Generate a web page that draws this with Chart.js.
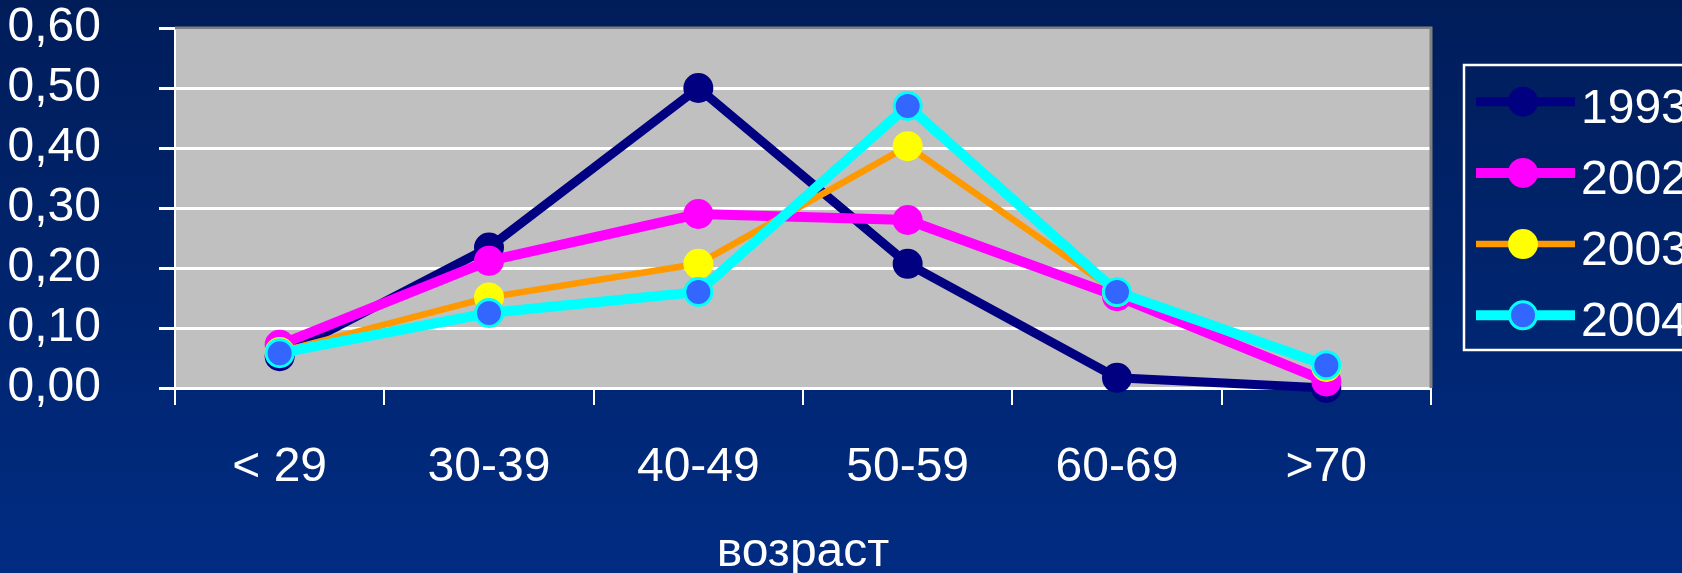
<!DOCTYPE html>
<html>
<head>
<meta charset="utf-8">
<script src="https://cdn.jsdelivr.net/npm/chart.js@4.4.0/dist/chart.umd.min.js"></script>
<style>
  html, body { margin: 0; padding: 0; background: #00256e; }
  #wrap { width: 1682px; height: 573px; }
</style>
</head>
<body>
<div id="wrap"><canvas id="c" width="1682" height="573"></canvas></div>
<script>
// Age groups on the x axis
const categories = ['< 29', '30-39', '40-49', '50-59', '60-69', '>70'];
// Share of cases per age group, by year
const y1993 = [0.053, 0.234, 0.500, 0.207, 0.017, 0.000];
const y2002 = [0.072, 0.212, 0.290, 0.280, 0.153, 0.011];
const y2003 = [0.060, 0.151, 0.207, 0.403, 0.160, 0.035];
const y2004 = [0.058, 0.125, 0.160, 0.470, 0.160, 0.038];
const seriesNames = ['1993', '2002', '2003', '2004'];
const axisTitle = 'возраст';

const FONT = '"Liberation Sans", Arial, sans-serif';

// Slide background, grey plot area and its dark frame
const backdrop = {
  id: 'backdrop',
  beforeDraw(chart) {
    const { ctx, chartArea: a, width, height } = chart;
    ctx.save();
    const g = ctx.createLinearGradient(0, 0, 0, height);
    g.addColorStop(0, '#001d5a');
    g.addColorStop(1, '#002c82');
    ctx.fillStyle = g;
    ctx.fillRect(0, 0, width, height);
    ctx.fillStyle = '#c0c0c0';
    ctx.fillRect(a.left, a.top, a.right - a.left, a.bottom - a.top);
    ctx.restore();
  },
  beforeDatasetsDraw(chart) {
    const { ctx, chartArea: a } = chart;
    ctx.save();
    ctx.strokeStyle = '#808080';
    ctx.lineWidth = 3;
    ctx.beginPath();
    ctx.moveTo(a.left, a.top);
    ctx.lineTo(a.right, a.top);
    ctx.lineTo(a.right, a.bottom);
    ctx.stroke();
    ctx.restore();
  }
};

// Framed legend at the right edge
const boxLegend = {
  id: 'boxLegend',
  afterDraw(chart) {
    const { ctx } = chart;
    ctx.save();
    ctx.strokeStyle = '#ffffff';
    ctx.lineWidth = 2.5;
    ctx.strokeRect(1464, 65, 300, 285);
    chart.data.datasets.forEach((ds, i) => {
      const y = 101.7 + i * 71.2;
      ctx.strokeStyle = ds.borderColor;
      ctx.lineWidth = ds.borderWidth;
      ctx.beginPath();
      ctx.moveTo(1476, y);
      ctx.lineTo(1575, y);
      ctx.stroke();
      ctx.beginPath();
      ctx.arc(1523, y, ds.pointRadius, 0, Math.PI * 2);
      ctx.fillStyle = ds.pointBackgroundColor;
      ctx.fill();
      if (ds.pointBorderWidth > 0) {
        ctx.lineWidth = ds.pointBorderWidth;
        ctx.strokeStyle = ds.pointBorderColor;
        ctx.stroke();
      }
      ctx.fillStyle = '#ffffff';
      ctx.font = '48px ' + FONT;
      ctx.textBaseline = 'alphabetic';
      ctx.textAlign = 'left';
      ctx.fillText(ds.label, 1581, y + 21);
    });
    ctx.restore();
  }
};

function series(label, data, line, width, fill, edge, edgeW, radius, order) {
  return {
    label, data, order,
    borderColor: line, borderWidth: width,
    pointBackgroundColor: fill, pointBorderColor: edge,
    pointBorderWidth: edgeW, pointRadius: radius, pointHoverRadius: radius,
    tension: 0, clip: false
  };
}

new Chart(document.getElementById('c'), {
  type: 'line',
  data: {
    labels: categories,
    datasets: [
      series(seriesNames[0], y1993, '#000080', 9, '#000080', '#000080', 0, 15, 4),
      series(seriesNames[1], y2002, '#ff00ff', 10, '#ff00ff', '#ff00ff', 0, 15, 3),
      series(seriesNames[2], y2003, '#ff9900', 6.5, '#ffff00', '#ffff00', 0, 15, 2),
      series(seriesNames[3], y2004, '#00ffff', 10, '#3366ff', '#00ffff', 3, 13.5, 1)
    ]
  },
  options: {
    responsive: false,
    animation: false,
    events: [],
    layout: { padding: { left: 0, top: 28, right: 251, bottom: 0 } },
    plugins: { legend: { display: false }, tooltip: { enabled: false } },
    scales: {
      x: {
        type: 'category',
        offset: true,
        afterFit(s) { s.height = 185; s.paddingLeft = 0; s.paddingRight = 0; },
        grid: { display: true, offset: true, drawOnChartArea: false, color: '#ffffff', lineWidth: 2, tickLength: 17 },
        border: { display: true, color: '#ffffff', width: 2 },
        ticks: { color: '#ffffff', font: { family: FONT, size: 48 }, padding: 34, maxRotation: 0, autoSkip: false },
        title: { display: true, text: axisTitle, color: '#ffffff', font: { family: FONT, size: 48 }, padding: { top: 0, bottom: -9 } }
      },
      y: {
        min: 0, max: 0.6,
        afterFit(s) { s.width = 175; s.paddingTop = 0; s.paddingBottom = 0; },
        grid: { color: '#ffffff', lineWidth: 3, tickLength: 16 },
        border: { display: true, color: '#ffffff', width: 2 },
        ticks: {
          stepSize: 0.1, color: '#ffffff', padding: 58, autoSkip: false,
          font: { family: FONT, size: 48 },
          callback: v => v.toFixed(2).replace('.', ',')
        }
      }
    }
  },
  plugins: [backdrop, boxLegend]
});
</script>
</body>
</html>
